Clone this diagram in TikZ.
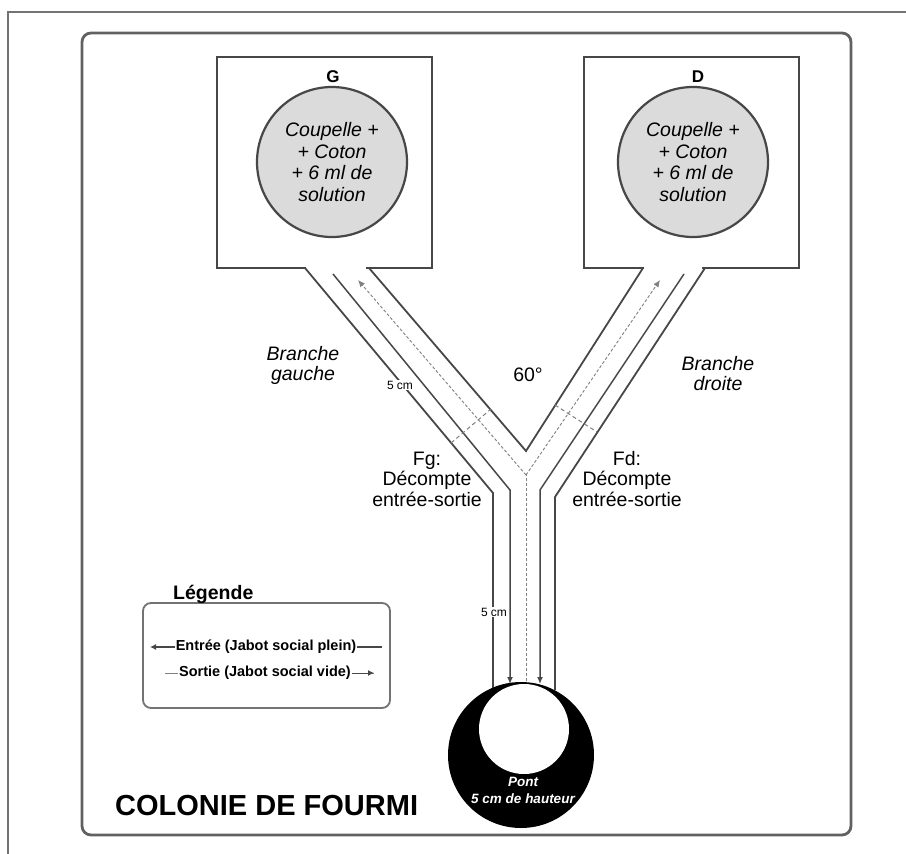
\documentclass[tikz,border=0pt]{standalone}
\usepackage{fontspec}
\setmainfont{Liberation Sans}
\usetikzlibrary{arrows.meta}
\definecolor{wallc}{gray}{0.28}
\definecolor{framec}{gray}{0.45}
\definecolor{panelc}{gray}{0.38}
\definecolor{dishc}{gray}{0.86}
\definecolor{dashc}{gray}{0.5}
\begin{document}
\begin{tikzpicture}[x=1pt,y=-1pt,
  frameline/.style={draw=framec, line width=1.6pt},
  panel/.style={draw=panelc, line width=2.8pt, rounded corners=9pt},
  boxnode/.style={draw=wallc, line width=2.2pt, minimum width=215pt, minimum height=211pt, inner sep=0pt},
  gap/.style={fill=white},
  wall/.style={draw=wallc, line width=1.8pt},
  entree/.style={draw=wallc, line width=1.5pt, -{Latex[length=7pt,width=6pt]}},
  sortie/.style={draw=dashc, line width=0.9pt, dash pattern=on 3pt off 2pt, -{Latex[length=7pt,width=6pt]}},
  sortieline/.style={draw=dashc, line width=0.9pt, dash pattern=on 3pt off 2pt},
  countline/.style={draw=dashc, line width=1pt, dash pattern=on 4pt off 3pt},
  dish/.style={circle, draw=wallc, line width=2.2pt, fill=dishc, minimum size=150pt, inner sep=0pt,
               align=center, font=\fontsize{19.5}{21.7}\selectfont\itshape},
  boxlabel/.style={font=\fontsize{17}{20}\selectfont\bfseries},
  lab/.style={align=center, inner sep=0pt, font=\fontsize{19.5}{20.5}\selectfont},
  itlab/.style={align=center, inner sep=0pt, font=\fontsize{19.5}{20}\selectfont\itshape},
  small/.style={fill=white, inner sep=0.5pt, font=\fontsize{12}{13}\selectfont},
  legtext/.style={fill=white, inner sep=1pt, font=\fontsize{14.5}{16}\selectfont\bfseries},
  legarrow/.style={draw=wallc, line width=1.5pt, -{Latex[length=6pt,width=6pt]}}
]
\useasboundingbox (0,0) rectangle (906,854);
\fill[white] (0,0) rectangle (906,854);

% outer frame and panel
\coordinate (f1) at (906,12);
\coordinate (f2) at (8,12);
\coordinate (f3) at (8,854);
\draw[frameline] (f1) -- (f2) -- (f3);
\draw[panel] (82,33) rectangle (851,835);

% boxes
\node[boxnode] (boxG) at (324.5,162.5) {};
\node[boxnode] (boxD) at (691.5,162.5) {};
\fill[gap] (306,262) rectangle (366,274);
\fill[gap] (644,262) rectangle (702,274);
\node[boxlabel] (labG) at (333,77) {G};
\node[boxlabel] (labD) at (698,77) {D};
\node[dish] (dishG) at (332,162) {Coupelle +\\+ Coton\\+ 6 ml de\\solution};
\node[dish] (dishD) at (693,162) {Coupelle +\\+ Coton\\+ 6 ml de\\solution};

% Y channel coordinates
\coordinate (LO1) at (305,268);
\coordinate (LO2) at (493,493);
\coordinate (LO3) at (493,690);
\coordinate (LS1) at (333,274);
\coordinate (LS2) at (510,490);
\coordinate (LS3) at (510,684);
\coordinate (LI1) at (369,268);
\coordinate (apex) at (526,451);
\coordinate (RI1) at (643,268);
\coordinate (RS1) at (684,274);
\coordinate (RS2) at (540,490);
\coordinate (RS3) at (540,684);
\coordinate (RO1) at (705,268);
\coordinate (RO2) at (555,497);
\coordinate (RO3) at (555,690);
\coordinate (J) at (526,475);
\coordinate (Jb) at (526,686);
\coordinate (LD) at (358,280);
\coordinate (RD) at (660,280);

% walls
\draw[wall] (LO1) -- (LO2) -- (LO3);
\draw[wall] (LI1) -- (apex) -- (RI1);
\draw[wall] (RO1) -- (RO2) -- (RO3);
% entree (solid) paths
\draw[entree] (LS1) -- (LS2) -- (LS3);
\draw[entree] (RS1) -- (RS2) -- (RS3);
% sortie (dashed) paths
\draw[sortieline] (Jb) -- (J);
\draw[sortie] (J) -- (LD);
\draw[sortie] (J) -- (RD);

% counting lines
\coordinate (fg1) at (451,443);
\coordinate (fg2) at (491,409);
\coordinate (fd1) at (555,405);
\coordinate (fd2) at (597,432);
\draw[countline] (fg1) -- (fg2);
\draw[countline] (fd1) -- (fd2);

% labels on the Y
\node[small] (cm1) at (400,385) {5 cm};
\node[small] (cm2) at (494,612) {5 cm};
\node[lab] (angle) at (528,375) {60°};
\node[itlab] (brG) at (303,365) {Branche\\gauche};
\node[itlab] (brD) at (718,374) {Branche\\droite};
\node[lab] (Fg) at (427,479) {Fg:\\Décompte\\entrée-sortie};
\node[lab] (Fd) at (627,479) {Fd:\\Décompte\\entrée-sortie};

% pont
\node[circle, fill=black, minimum size=146pt, inner sep=0pt] (pont) at (521,755) {};
\node[circle, fill=white, minimum size=90pt, inner sep=0pt] (pontin) at (524,729) {};
\node[align=center, text=white, inner sep=0pt, font=\fontsize{13.5}{17}\selectfont\bfseries\itshape] (ponttxt) at (523,790) {Pont\\5 cm de hauteur};

% legend
\draw[draw=framec, line width=1.8pt, rounded corners=8pt] (143,603) rectangle (390,708);
\node[anchor=base west, inner sep=0pt, font=\fontsize{19.5}{22}\selectfont\bfseries] (leg) at (173,599) {Légende};
\coordinate (e1) at (382,647);
\coordinate (e2) at (150,647);
\coordinate (s1) at (165,673);
\coordinate (s2) at (374,673);
\coordinate (s3) at (352,673);
\draw[legarrow] (e1) -- (e2);
\draw[draw=dashc, line width=1pt] (s1) -- (s2);
\draw[draw=wallc, line width=1pt, -{Latex[length=6pt,width=6pt]}] (s3) -- (s2);
\node[legtext] (leg1) at (266,647) {Entrée (Jabot social plein)};
\node[legtext] (leg2) at (265,673) {Sortie (Jabot social vide)};

% title
\node[anchor=base west, inner sep=0pt, font=\fontsize{29}{32}\selectfont\bfseries] (title) at (115,815) {COLONIE DE FOURMI};
\end{tikzpicture}
\end{document}
